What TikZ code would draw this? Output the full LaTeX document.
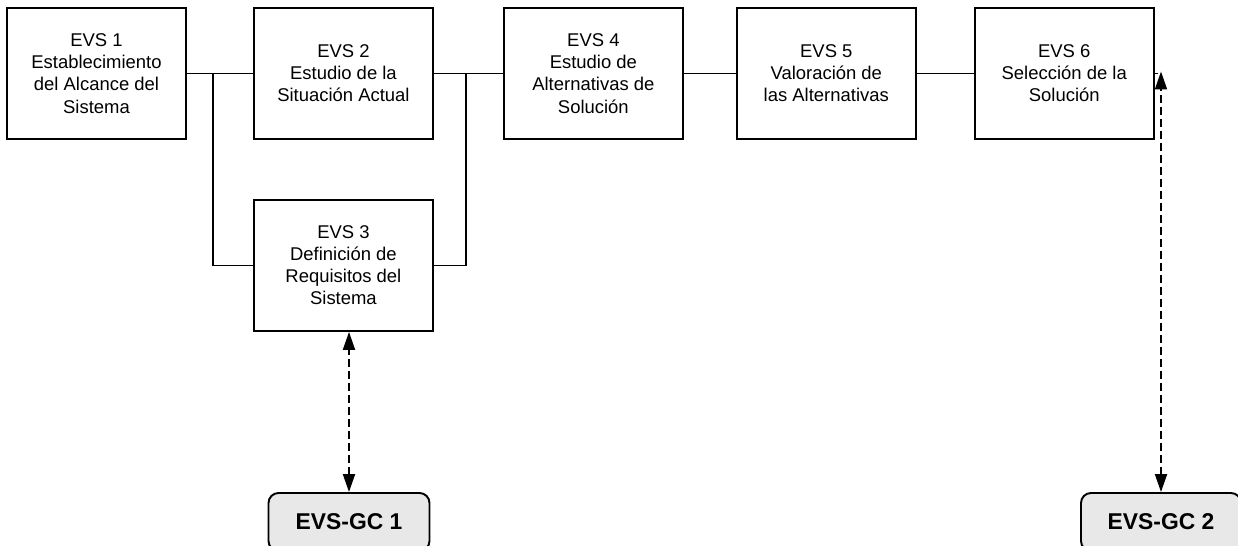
\documentclass[tikz,border=0pt]{standalone}
\usepackage{fontspec}
\setmainfont{Liberation Sans}
\usetikzlibrary{positioning, arrows.meta}

\tikzset{
	evsbox/.style={draw, line width=1.1pt, minimum width=3.58cm, minimum height=2.62cm,
		inner sep=0pt, align=center, font=\fontsize{10.5}{12.6}\selectfont},
	gcbox/.style={draw, line width=1.1pt, rounded corners=0.2cm, fill=black!9,
		minimum width=3.22cm, minimum height=1.16cm, inner sep=0pt,
		font=\fontsize{13}{15}\selectfont\bfseries},
	link/.style={line width=0.9pt},
	dashlink/.style={line width=1.1pt, dash pattern=on 0.16cm off 0.08cm,
		{Triangle[width=0.24cm,length=0.36cm]}-{Triangle[width=0.24cm,length=0.36cm]}}
}

\begin{document}
\begin{tikzpicture}
	\useasboundingbox (0,0) rectangle (24.76,-10.92);
	\node (evs1) [evsbox] at (1.93,-1.47) {EVS 1\\Establecimiento\\del Alcance del\\Sistema};
	\node (evs2) [evsbox, right=1.32cm of evs1] {EVS 2\\Estudio de la\\Situación Actual};
	\node (evs3) [evsbox, below=1.18cm of evs2] {EVS 3\\Definición de\\Requisitos del\\Sistema};
	\node (evs4) [evsbox, right=1.38cm of evs2] {EVS 4\\Estudio de\\Alternativas de\\Solución};
	\node (evs5) [evsbox, right=1.04cm of evs4] {EVS 5\\Valoración de\\las Alternativas};
	\node (evs6) [evsbox, right=1.14cm of evs5] {EVS 6\\Selección de la\\Solución};
	\node (gc1) [gcbox] at (6.98,-10.44) {EVS-GC 1};
	\node (gc2) [gcbox, minimum width=3.2cm] at (23.22,-10.44) {EVS-GC 2};
	\coordinate (j1) at (4.26,-1.47);
	\coordinate (j2) at (9.32,-1.47);
	\coordinate (c6) at (23.16,-1.47);
	\path[link]
		(evs1) edge (evs2)
		(evs2) edge (evs4)
		(evs4) edge (evs5)
		(evs5) edge (evs6)
		(evs6.east) edge (c6)
	;
	\draw[link] (j1) |- (evs3.west);
	\draw[link] (j2) |- (evs3.east);
	\draw[dashlink] (gc1.north) -- (gc1.north |- evs3.south);
	\draw[dashlink] (gc2.north) -- ([yshift=0.04cm]gc2.north |- c6);
\end{tikzpicture}
\end{document}
